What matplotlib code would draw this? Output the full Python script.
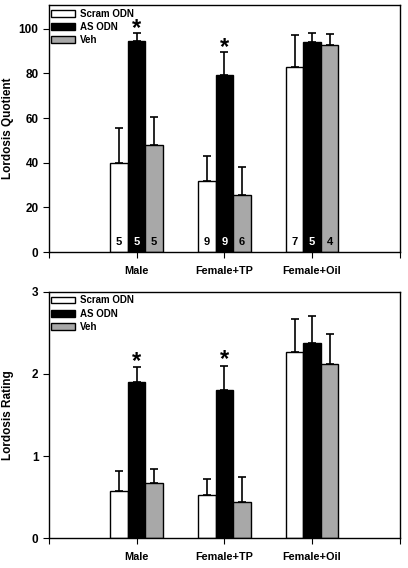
import matplotlib
matplotlib.use("Agg")
import matplotlib.pyplot as plt
import numpy as np
from matplotlib.patches import Patch

plt.rcParams["font.family"] = ["Liberation Sans", "DejaVu Sans"]
plt.rcParams["font.weight"] = "bold"

# ---------------------------------------------------------------------------
# Data
# ---------------------------------------------------------------------------
groups = ["Male", "Female+TP", "Female+Oil"]
treatments = ["Scram ODN", "AS ODN", "Veh"]

# Lordosis quotient (mean, upper SEM)
lq_scram = [40.0, 32.0, 83.0]
lq_scram_err = [15.4, 11.0, 14.2]
lq_as = [94.5, 79.3, 94.2]
lq_as_err = [3.4, 10.1, 4.0]
lq_veh = [47.9, 25.4, 92.6]
lq_veh_err = [12.7, 12.7, 4.9]

# sample sizes printed inside the bars
n_scram = [5, 9, 7]
n_as = [5, 9, 5]
n_veh = [5, 6, 4]

# Lordosis rating (mean, upper SEM)
lr_scram = [0.57, 0.53, 2.27]
lr_scram_err = [0.25, 0.19, 0.40]
lr_as = [1.90, 1.80, 2.37]
lr_as_err = [0.185, 0.30, 0.34]
lr_veh = [0.67, 0.445, 2.12]
lr_veh_err = [0.17, 0.295, 0.36]

# AS ODN significantly different from controls
significant = [True, True, False]

colors = ["white", "black", "#a8a8a8"]
num_colors = ["black", "white", "black"]


def draw_panel(ax, means, errs, ylim, yticks, ylabel, star_off, counts=None):
    x = np.arange(1, len(groups) + 1)
    width = 0.2
    offsets = [-width, 0.0, width]
    for i, (m, e) in enumerate(zip(means, errs)):
        xi = x + offsets[i]
        ax.bar(xi, m, width, color=colors[i], edgecolor="black", lw=1.0,
               zorder=2)
        ax.errorbar(xi, m, yerr=[np.zeros(len(e)), e], fmt="none",
                    ecolor="black", elinewidth=1.2, capsize=3, capthick=1.2,
                    zorder=1)
        if counts is not None:
            for xx, n in zip(xi, counts[i]):
                ax.text(xx, ylim[1] * 0.041, str(n), ha="center", va="center",
                        fontsize=8, fontweight="bold", color=num_colors[i],
                        zorder=3)
    # significance stars above AS ODN
    for xx, m, e, s in zip(x, means[1], errs[1], significant):
        if s:
            ax.text(xx, m + e + star_off, "*", ha="center", va="center",
                    fontsize=17, fontweight="bold")

    ax.set_xlim(0, 4)
    ax.set_ylim(*ylim)
    ax.set_xticks([0, 1, 2, 3, 4])
    ax.set_xticklabels([""] + groups + [""], fontsize=7.8, fontweight="bold")
    ax.set_yticks(yticks)
    ax.set_yticklabels([str(t) for t in yticks], fontsize=8.5,
                       fontweight="bold")
    ax.tick_params(direction="out", length=4, width=0.8)
    ax.tick_params(axis="x", pad=6)
    ax.set_ylabel(ylabel, fontsize=8.5, fontweight="bold")
    ax.yaxis.set_label_coords(-0.10, 0.5)
    for sp in ax.spines.values():
        sp.set_linewidth(1.0)

    handles = [Patch(facecolor=c, edgecolor="black", lw=1.0, label=t)
               for c, t in zip(colors, treatments)]
    ax.legend(handles=handles, loc="upper left", bbox_to_anchor=(0.006, 0.985),
              frameon=False, handlelength=2.5, handleheight=0.7,
              handletextpad=0.45, labelspacing=0.33, borderaxespad=0.0,
              borderpad=0.0, prop={"weight": "bold", "size": 7.0})


fig = plt.figure(figsize=(4.08, 5.68), dpi=100)
ax1 = fig.add_axes([0.120, 0.5563, 0.860, 0.4349])
ax2 = fig.add_axes([0.120, 0.0523, 0.860, 0.4342])

draw_panel(ax1, [lq_scram, lq_as, lq_veh], [lq_scram_err, lq_as_err, lq_veh_err],
           (0, 110.6), [0, 20, 40, 60, 80, 100], "Lordosis Quotient", 2.2,
           counts=[n_scram, n_as, n_veh])
draw_panel(ax2, [lr_scram, lr_as, lr_veh], [lr_scram_err, lr_as_err, lr_veh_err],
           (0, 3), [0, 1, 2, 3], "Lordosis Rating", 0.07)

fig.savefig("out.png", dpi=100, facecolor="white")
